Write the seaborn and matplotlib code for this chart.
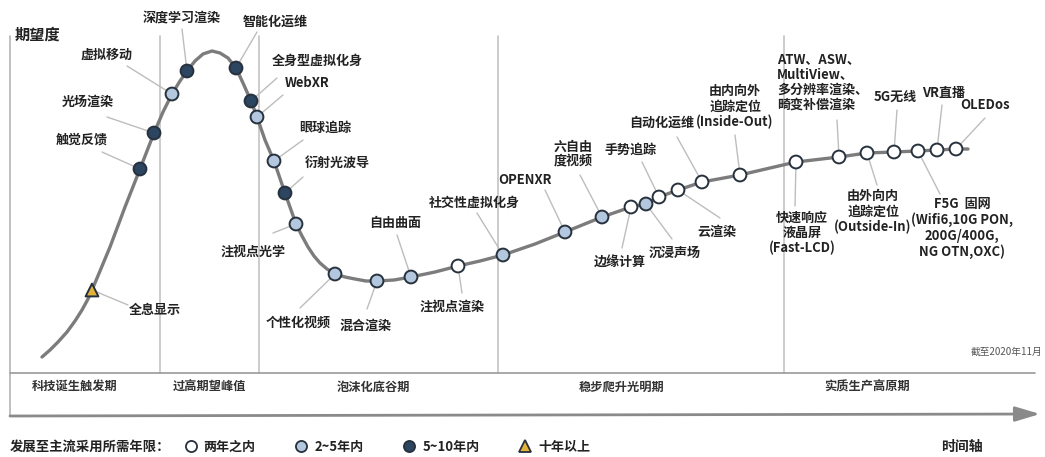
import matplotlib
matplotlib.use("Agg")
import matplotlib.pyplot as plt
from matplotlib.lines import Line2D
import pandas as pd
import seaborn as sns

# hype curve trace (time, expectation), in picture units
curve_x = [42, 50, 58, 67, 75, 82, 88, 92, 100, 110, 125, 140, 154, 163, 172, 180,
           187, 195, 203, 212, 220, 228, 236, 243, 251, 257, 265, 274, 285, 296, 302,
           308, 314, 320, 327, 335, 345, 355, 366, 377, 394, 411, 435, 458, 480, 503,
           535, 565, 602, 631, 646, 659, 678, 702, 740, 770, 796, 839, 867, 894, 918,
           937, 956, 968]
curve_y = [357, 350, 342, 332, 321, 310, 299, 290, 271, 247, 207, 169, 133, 112, 94, 81,
           71, 61, 54, 51, 53, 58, 68, 83, 101, 117, 140, 161, 193, 224, 236,
           247, 256, 263, 269, 274, 277, 279, 281, 281, 280, 277, 272, 266, 261, 255,
           244, 232, 217, 207, 204, 197, 190, 182, 175, 168, 162, 157, 153, 152, 151,
           150, 149, 149]

tech_names = ["全息显示", "触觉反馈", "光场渲染", "虚拟移动", "深度学习渲染", "智能化运维",
              "全身型虚拟化身", "WebXR", "眼球追踪", "衍射光波导", "注视点光学", "个性化视频",
              "混合渲染", "自由曲面", "注视点渲染", "社交性虚拟化身", "OPENXR", "六自由度视频",
              "边缘计算", "沉浸声场", "手势追踪", "云渲染", "自动化运维", "由内向外追踪定位",
              "快速响应液晶屏", "ATW/ASW/MultiView", "由外向内追踪定位", "5G无线", "F5G固网",
              "VR直播", "OLEDos"]
tech_x = [92, 140, 154, 172, 187, 236, 251, 257, 274, 285, 296, 335, 377, 411, 458, 503,
          565, 602, 631, 646, 659, 678, 702, 740, 796, 839, 867, 894, 918, 937, 956]
tech_y = [290, 169, 133, 94, 71, 68, 101, 117, 161, 193, 224, 274, 281, 277, 266, 255,
          232, 217, 207, 204, 197, 190, 182, 175, 162, 157, 153, 152, 151, 150, 149]
tech_years = ["十年以上", "5~10年内", "5~10年内", "2~5年内", "5~10年内", "5~10年内",
              "5~10年内", "2~5年内", "2~5年内", "5~10年内", "2~5年内", "2~5年内",
              "2~5年内", "2~5年内", "两年之内", "2~5年内", "2~5年内", "2~5年内",
              "两年之内", "2~5年内", "两年之内", "两年之内", "两年之内", "两年之内",
              "两年之内", "两年之内", "两年之内", "两年之内", "两年之内", "两年之内", "两年之内"]

year_classes = ["两年之内", "2~5年内", "5~10年内", "十年以上"]
phase_names = ["科技诞生触发期", "过高期望峰值", "泡沫化底谷期", "稳步爬升光明期", "实质生产高原期"]

# layout: label text, text x, text y, horizontal align, leader start x, leader start y
label_layout = {
    "全息显示": ("全息显示", 155, 310, "center", 128, 305),
    "触觉反馈": ("触觉反馈", 82, 140, "center", 102, 152),
    "光场渲染": ("光场渲染", 88, 102, "center", 107, 117),
    "虚拟移动": ("虚拟移动", 107, 55, "center", 127, 66),
    "深度学习渲染": ("深度学习渲染", 182, 18, "center", 182, 29),
    "智能化运维": ("智能化运维", 275, 22, "center", 257, 32),
    "全身型虚拟化身": ("全身型虚拟化身", 317, 61, "center", 277, 78),
    "WebXR": ("WebXR", 307, 83, "center", 283, 95),
    "眼球追踪": ("眼球追踪", 325, 128, "center", 303, 140),
    "衍射光波导": ("衍射光波导", 337, 163, "center", 303, 177),
    "注视点光学": ("注视点光学", 253, 252, "center", 273, 233),
    "个性化视频": ("个性化视频", 298, 323, "center", 300, 308),
    "混合渲染": ("混合渲染", 365, 326, "center", 367, 309),
    "自由曲面": ("自由曲面", 395, 223, "center", 397, 235),
    "注视点渲染": ("注视点渲染", 452, 307, "center", 462, 293),
    "社交性虚拟化身": ("社交性虚拟化身", 474, 203, "center", 477, 213),
    "OPENXR": ("OPENXR", 525, 180, "center", 545, 190),
    "六自由度视频": ("六自由\n度视频", 573, 154, "center", 580, 175),
    "边缘计算": ("边缘计算", 620, 263, "center", 622, 248),
    "沉浸声场": ("沉浸声场", 675, 253, "center", 672, 239),
    "手势追踪": ("手势追踪", 630, 150, "center", 642, 162),
    "云渲染": ("云渲染", 717, 232, "center", 720, 218),
    "自动化运维": ("自动化运维", 662, 123, "center", 677, 137),
    "由内向外追踪定位": ("由内向外\n追踪定位\n(Inside-Out)", 735, 107, "center", 735, 135),
    "快速响应液晶屏": ("快速响应\n液晶屏\n(Fast-LCD)", 802, 233, "center", 795, 206),
    "ATW/ASW/MultiView": ("ATW、ASW、\nMultiView、\n多分辨率渲染、\n畸变补偿渲染", 777, 82, "left", 837, 120),
    "由外向内追踪定位": ("由外向内\n追踪定位\n(Outside-In)", 873, 212, "center", 877, 185),
    "5G无线": ("5G无线", 895, 97, "center", 897, 110),
    "F5G固网": ("F5G  固网\n(Wifi6,10G PON,\n200G/400G,\nNG OTN,OXC)", 962, 228, "center", 940, 194),
    "VR直播": ("VR直播", 944, 93, "center", 942, 105),
    "OLEDos": ("OLEDos", 985, 105, "center", 985, 118),
}
phase_label_x = [75, 210, 373, 622, 867]
phase_lines_x = [160, 259, 498, 784]

fill_colors = {"两年之内": "#ffffff", "2~5年内": "#b3c8de",
               "5~10年内": "#2c4560", "十年以上": "#e2b23a"}
marker_shapes = {"两年之内": "o", "2~5年内": "o", "5~10年内": "o", "十年以上": "^"}
edge_color = "#27313d"
text_color = "#222222"

sns.set_theme(style="white")
plt.rcParams["font.family"] = ["Noto Sans CJK SC", "DejaVu Sans"]

curve = pd.DataFrame({"x": curve_x, "y": curve_y})
techs = pd.DataFrame({"name": tech_names, "x": tech_x, "y": tech_y, "years": tech_years})

fig = plt.figure(figsize=(10.45, 4.57), dpi=100)
ax = fig.add_axes([0, 0, 1, 1])

# frame: axis line, phase separators, band, time arrow
ax.plot([10, 10], [36, 416], color="#b5b5b5", lw=1.2, zorder=1)
for px in phase_lines_x:
    ax.plot([px, px], [36, 373], color="#c4c4c4", lw=1.2, zorder=1)
ax.plot([10, 1035], [373, 373], color="#9a9a9a", lw=1.2, zorder=1)
ax.annotate("", xy=(1040, 414), xytext=(10, 416),
            arrowprops=dict(arrowstyle="-|>,head_length=1.5,head_width=0.45",
                            color="#8a8a8a", lw=2, mutation_scale=10, shrinkA=0, shrinkB=0))

for name, px in zip(phase_names, phase_label_x):
    ax.text(px, 387, name, ha="center", va="center", fontsize=8.8,
            fontweight="bold", color="#333333")

ax.text(15, 35, "期望度", ha="left", va="center", fontsize=11, fontweight="bold", color=text_color)
ax.text(1042, 352, "截至2020年11月", ha="right", va="center", fontsize=7, color="#555555")
ax.text(962, 447, "时间轴", ha="center", va="center", fontsize=10, fontweight="bold", color=text_color)

# leader lines and labels
for name, mx, my in zip(tech_names, tech_x, tech_y):
    label, tx, ty, ha, lx, ly = label_layout[name]
    ax.plot([lx, mx], [ly, my], color="#bdbdbd", lw=1.0, zorder=2)
    ax.text(tx, ty, label, ha=ha, va="center", multialignment=ha, fontsize=9.4,
            fontweight="bold", color=text_color, linespacing=1.12, zorder=5)

sns.lineplot(data=curve, x="x", y="y", sort=False, estimator=None, ax=ax,
             color="#7c7c7c", lw=2.4, zorder=3)
ax.lines[-1].set_solid_joinstyle("round")

sns.scatterplot(data=techs, x="x", y="y", hue="years", style="years",
                hue_order=year_classes, style_order=year_classes,
                palette=fill_colors, markers=marker_shapes, s=85,
                edgecolor=edge_color, linewidth=1.4, legend=False, ax=ax, zorder=4)
ax.set_xlim(0, 1045)
ax.set_ylim(457, 0)
ax.axis("off")

# legend
handles = [Line2D([], [], ls="none", marker=marker_shapes[c], markersize=8,
                  markerfacecolor=fill_colors[c], markeredgecolor=edge_color,
                  markeredgewidth=1.3, label=c) for c in year_classes]
ax.text(10, 447, "发展至主流采用所需年限：", ha="left", va="center", fontsize=9.6,
        fontweight="bold", color=text_color)
leg = ax.legend(handles=handles, ncol=4, loc="center left",
                bbox_to_anchor=(184 / 1045, 1 - 447 / 457), frameon=False,
                handlelength=1.0, handletextpad=0.5, columnspacing=3.0,
                borderpad=0, borderaxespad=0, prop={"size": 9.4, "weight": "bold"})
for t in leg.get_texts():
    t.set_color(text_color)

fig.savefig("out.png", dpi=100, facecolor="white")
